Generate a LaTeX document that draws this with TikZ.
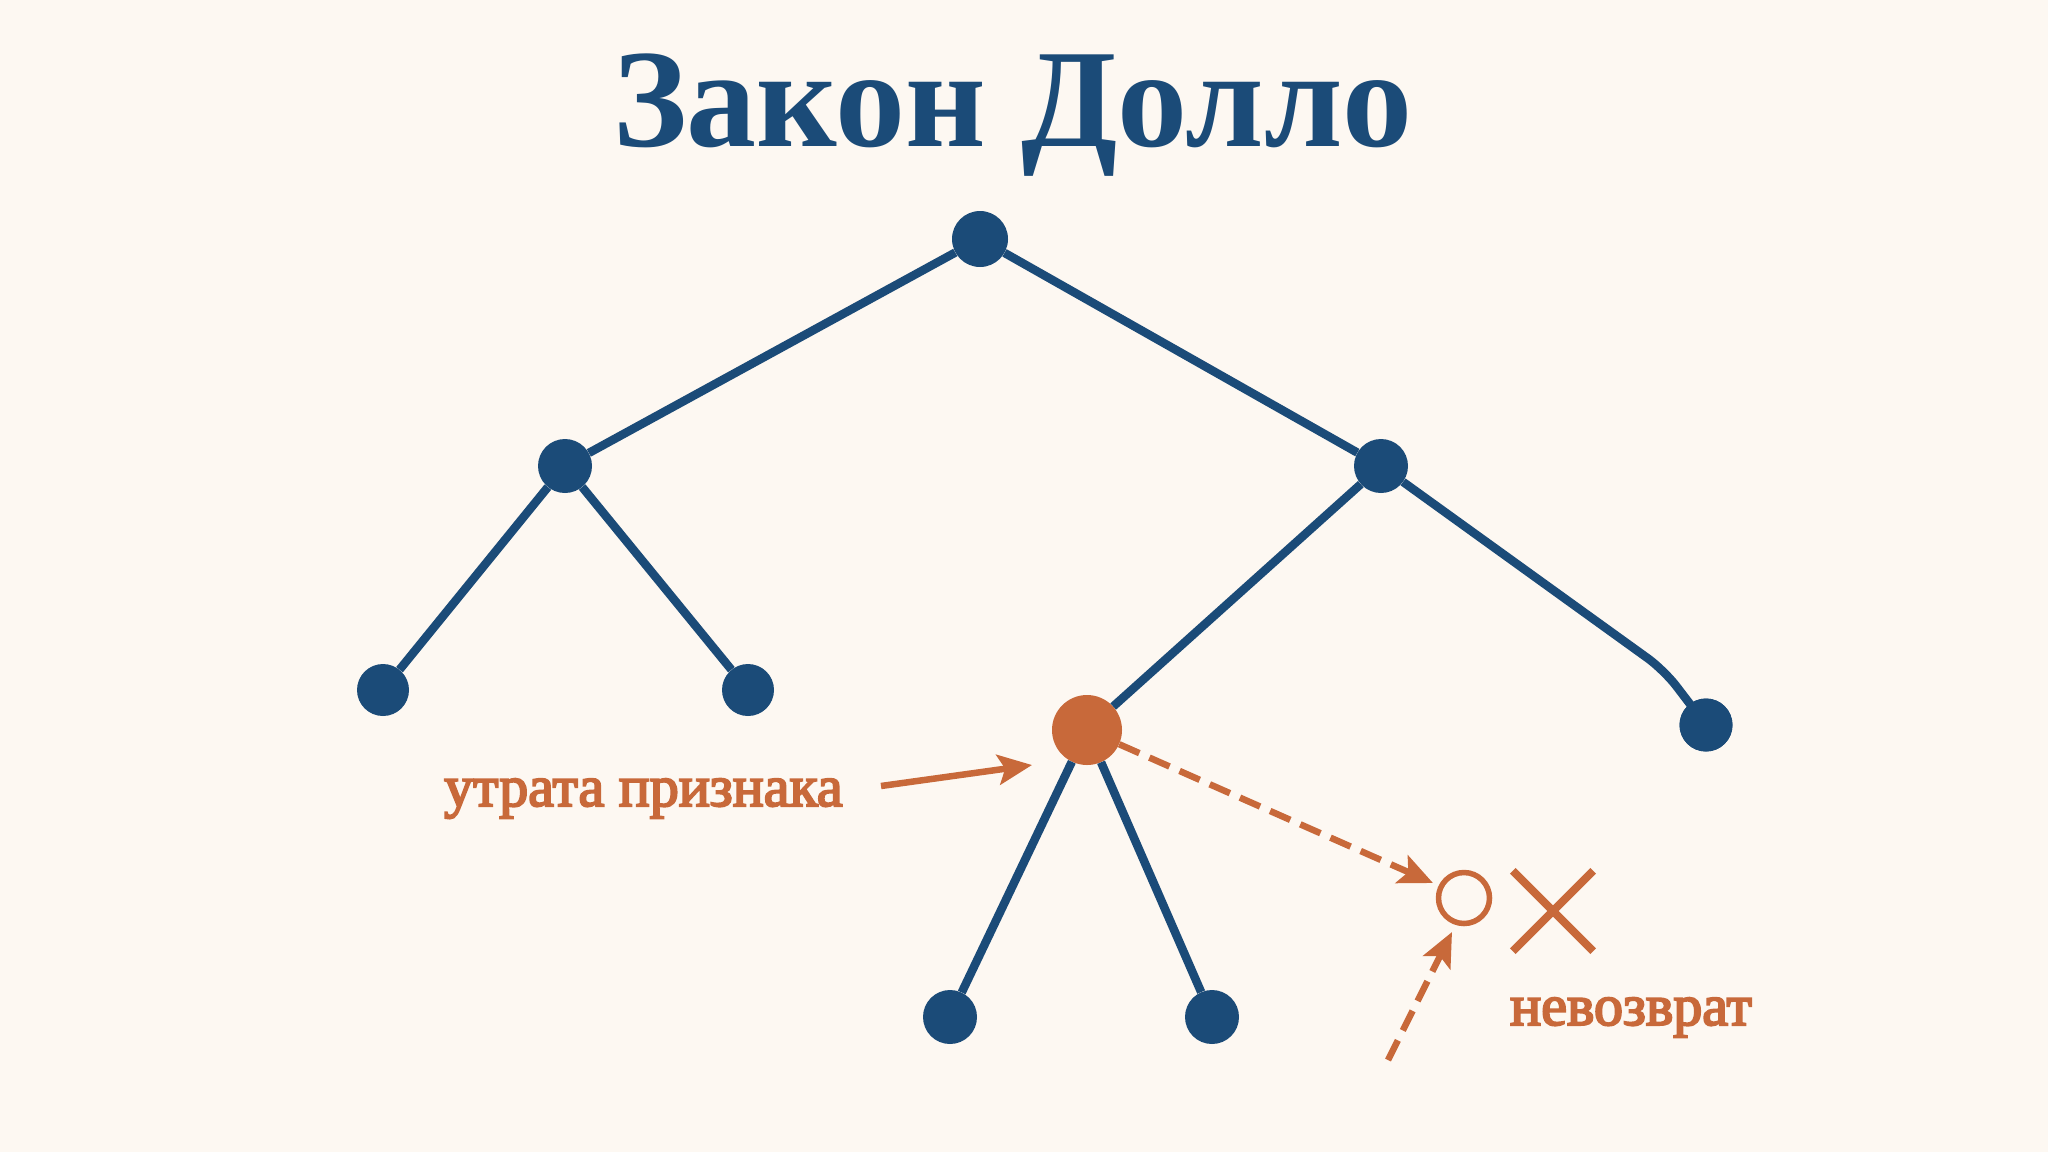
\documentclass[tikz,border=0pt]{standalone}
\usepackage{fontspec}
\setmainfont{Liberation Serif}
\newfontfamily\lblfont[FakeBold=3.5]{Liberation Serif}
\usetikzlibrary{arrows.meta}
\definecolor{bg}{HTML}{FDF8F2}
\definecolor{navy}{HTML}{1B4B78}
\definecolor{rust}{HTML}{C8693A}
\tikzset{
  dot/.style={circle,fill=navy,inner sep=0pt,minimum size=#1},
  edge/.style={draw=navy,line width=8.5pt},
  lbl/.style={text=rust,font=\lblfont\fontsize{58}{60}\selectfont,inner sep=0pt},
  tip/.style={-{Stealth[length=34pt,width=30pt,inset=7pt]}},
  dsh/.style={draw=rust,line width=6.5pt,dash pattern=on 22pt off 11pt,tip},
}
\begin{document}
\begin{tikzpicture}[x=1pt,y=-1pt]
\useasboundingbox[fill=bg] (0,0) rectangle (2048,1152);
\node[anchor=base,text=navy,inner sep=0pt,font=\bfseries\fontsize{140}{144}\selectfont] (title) at (1013,146) {Закон Долло};
\node[dot=56pt] (root) at (980,239) {};
\node[dot=54pt] (lm) at (565,466) {};
\node[dot=54pt] (rm) at (1381,466) {};
\node[dot=52pt] (ll) at (383,690) {};
\node[dot=52pt] (lr) at (748,690) {};
\node[dot=53pt] (rl) at (1706,725) {};
\node[dot=54pt] (bl) at (950,1017) {};
\node[dot=54pt] (br) at (1212,1017) {};
\node[circle,fill=rust,inner sep=0pt,minimum size=70pt] (org) at (1087,730) {};
\coordinate (bend) at (1664,670);
\draw[edge] (root) -- (lm);
\draw[edge] (root) -- (rm);
\draw[edge] (lm) -- (ll);
\draw[edge] (lm) -- (lr);
\draw[edge] (rm) -- (org);
\draw[edge,rounded corners=20pt] (rm) -- (bend) -- (rl.center);
\node[dot=53pt] at (rl) {};
\draw[edge] (org) -- (bl);
\draw[edge] (org) -- (br);
\node[circle,draw=rust,line width=5.5pt,inner sep=0pt,minimum size=51pt] (hol) at (1464,898) {};
\node[inner sep=0pt,minimum size=80pt] (xm) at (1553,911) {};
\draw[rust,line width=8pt] (xm.north west) -- (xm.south east) (xm.north east) -- (xm.south west);
\node[lbl,anchor=base west] (loss) at (444,806) {утрата признака};
\node[lbl,anchor=base west] (norev) at (1510,1025) {невозврат};
\coordinate (a1) at (881,786);
\coordinate (a1t) at (1032,765);
\draw[rust,line width=6.5pt,tip] (a1) -- (a1t);
\draw[dsh] (org) -- (1433,883);
\coordinate (d2) at (1388,1060);
\draw[dsh] (d2) -- (1452,932);
\end{tikzpicture}
\end{document}
